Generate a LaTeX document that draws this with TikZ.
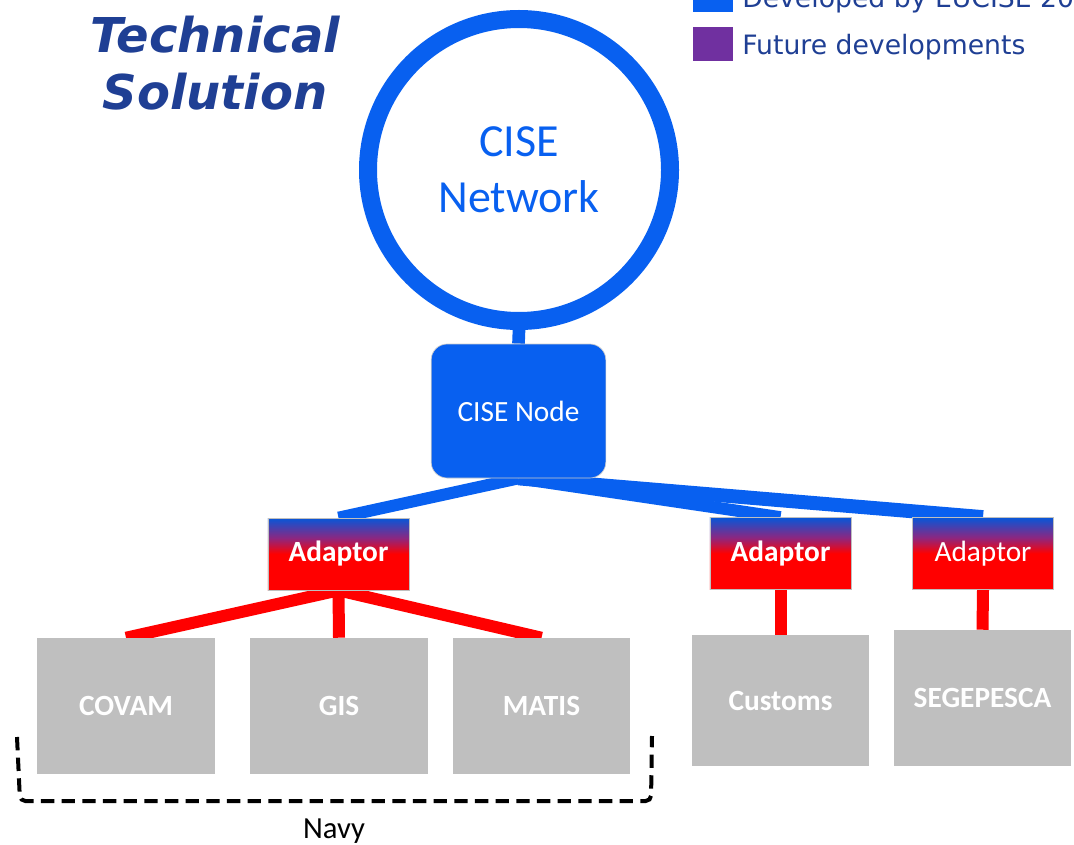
\documentclass[tikz,border=0pt]{standalone}
\usepackage{fontspec}
\setmainfont{Carlito}
\newfontfamily\verdanalike{DejaVu Sans}
\usetikzlibrary{backgrounds}

\definecolor{cisebl}{RGB}{8,96,240}
\definecolor{titlebl}{RGB}{31,63,148}
\definecolor{sysgray}{RGB}{191,191,191}
\definecolor{futpurple}{RGB}{112,48,160}
\pgfdeclareverticalshading{adaptshade}{100bp}{color(0bp)=(red); color(50bp)=(red); color(61bp)=(futpurple!80!red); color(75bp)=(cisebl!90!black); color(100bp)=(cisebl!90!black)}

\tikzset{
  adaptor/.style={shading=adaptshade, draw=black!25, line width=0.5pt,
    minimum width=106pt, minimum height=54pt, inner sep=0pt,
    text=white, font=\fontsize{22}{24}\selectfont},
  system/.style={fill=sysgray, minimum width=133pt, minimum height=102pt,
    inner sep=0pt, text=white, font=\fontsize{22}{24}\selectfont\bfseries},
  bluelink/.style={cisebl, line width=9pt},
  redlink/.style={red, line width=9pt},
}

\begin{document}
\begin{tikzpicture}[x=0.75pt, y=-0.75pt]
\clip (0,0) rectangle (1074,845);

% title and legend
\node [font=\verdanalike\fontsize{36}{43}\selectfont\bfseries\itshape, text=titlebl, align=center] (title) at (215,63) {Technical\\Solution};
\fill [cisebl] (693,-8) rectangle (733,12);
\node [anchor=base west, inner sep=0pt, font=\verdanalike\fontsize{20}{24}\selectfont, text=titlebl] (leg1) at (742,8) {Developed by EUCISE 2020};
\fill [futpurple] (693,27) rectangle (733,61);
\node [anchor=base west, inner sep=0pt, font=\verdanalike\fontsize{20}{24}\selectfont, text=titlebl] (leg2) at (742,55) {Future developments};

% network and node
\node [circle, draw=cisebl, line width=13.5pt, minimum size=226.5pt, inner sep=0pt, text=cisebl, align=center,
       font=\fontsize{34.5}{42}\selectfont] (net) at (519,170) {CISE\\Network};
\node [fill=cisebl, draw=black!20, line width=0.5pt, rounded corners=12pt, minimum width=131pt, minimum height=100.5pt,
       text=white, font=\fontsize{22}{24}\selectfont] (cnode) at (518.5,411) {CISE Node};

% adaptors
\node [adaptor, font=\fontsize{22}{24}\selectfont\bfseries] (ad1) at (338.5,554) {\raisebox{-2pt}{Adaptor}};
\node [adaptor, font=\fontsize{22}{24}\selectfont\bfseries] (ad2) at (780.5,553.5) {\raisebox{-2pt}{Adaptor}};
\node [adaptor] (ad3) at (983,553.5) {\raisebox{-2pt}{Adaptor}};

% systems
\node [system] (covam) at (126,706) {\raisebox{-2pt}{COVAM}};
\node [system] (gis) at (339,706) {\raisebox{-2pt}{GIS}};
\node [system] (matis) at (541.5,706) {\raisebox{-2pt}{MATIS}};
\node [system, minimum height=98pt] (customs) at (780.5,700.5) {Customs};
\node [system] (segepesca) at (982.5,698) {SEGEPESCA};

\begin{scope}[on background layer]
\draw [cisebl, line width=9.5pt] (net.south) -- (cnode.north);
\draw [bluelink] (cnode.south) -- (ad1.north);
\draw [bluelink] (cnode.south) -- (ad2.north);
\draw [bluelink, line width=10.5pt] (cnode.south) -- (ad3.north);
\draw [redlink] (ad1.south) -- (covam.north);
\draw [redlink] (ad1.south) -- (gis.north);
\draw [redlink] (ad1.south) -- (matis.north);
\draw [redlink] (ad2.south) -- (customs.north);
\draw [redlink] (ad3.south) -- (segepesca.north);
\end{scope}

% navy group
\draw [dash pattern=on 10pt off 5.5pt, line width=3pt, rounded corners=4pt]
  (17,737) -- (20,801) -- (651,801) -- (652,736);
\node [font=\fontsize{23}{26}\selectfont] (navy) at (334,831) {Navy};
\end{tikzpicture}
\end{document}
